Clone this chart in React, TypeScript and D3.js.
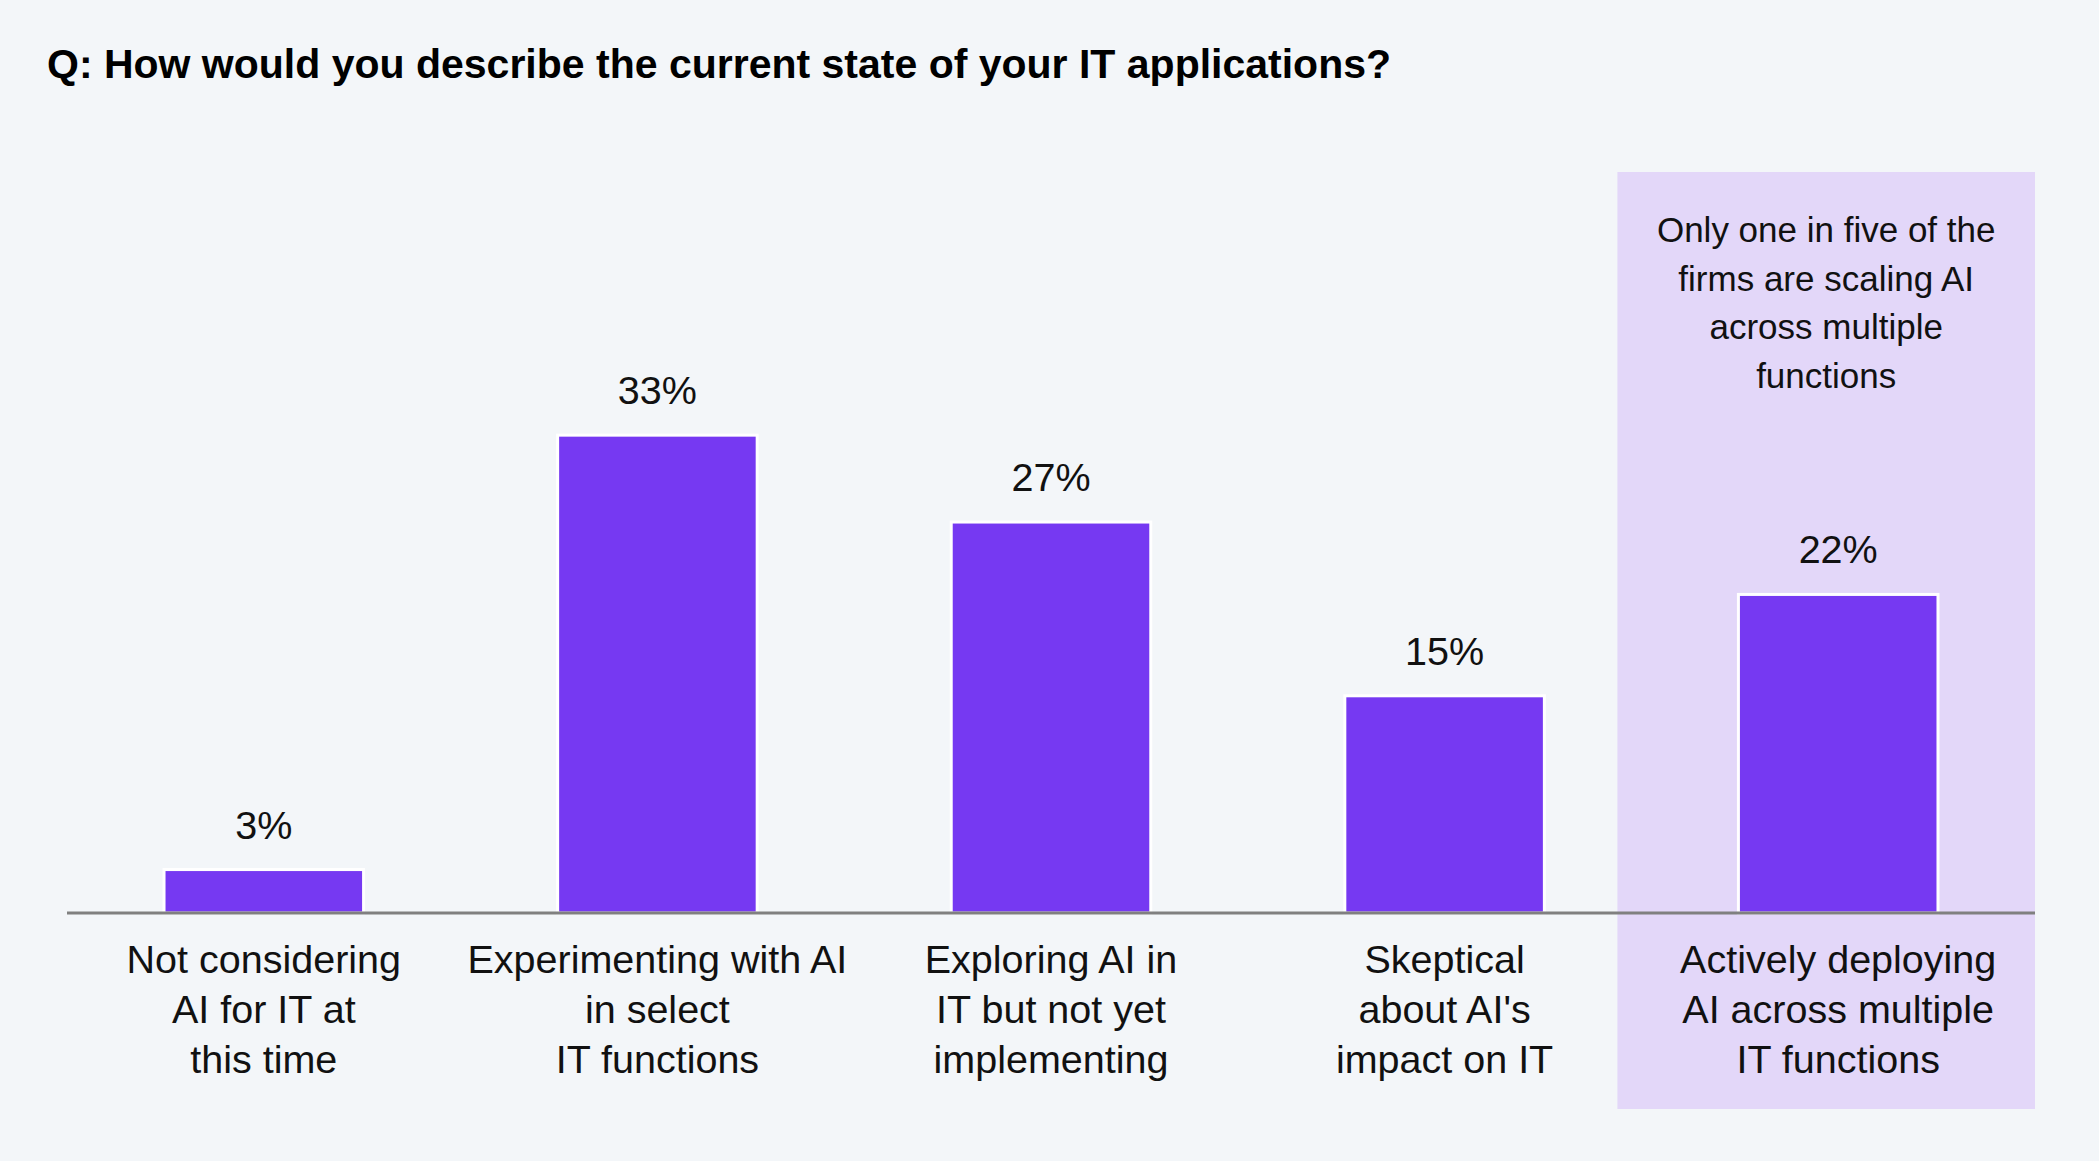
import { useEffect, useRef } from 'react';
import * as d3 from 'd3';

const categories = [
  ['Not considering', 'AI for IT at', 'this time'],
  ['Experimenting with AI', 'in select', 'IT functions'],
  ['Exploring AI in', 'IT but not yet', 'implementing'],
  ['Skeptical', "about AI's", 'impact on IT'],
  ['Actively deploying', 'AI across multiple', 'IT functions'],
];
const values = [3, 33, 27, 15, 22];
const highlightIndex = 4;
const noteLines = ['Only one in five of the', 'firms are scaling AI', 'across multiple', 'functions'];
const title = 'Q: How would you describe the current state of your IT applications?';

const W = 2099;
const H = 1161;
const FONT = '"Liberation Sans", Arial, Helvetica, sans-serif';

export default function App() {
  const svgRef = useRef<SVGSVGElement>(null);

  useEffect(() => {
    if (!svgRef.current) return;
    const svg = d3.select(svgRef.current);
    svg.selectAll('*').remove();

    const baseline = 913;
    const left = 67;
    const right = 2035;

    const keys = categories.map((_, i) => String(i));
    const x = d3.scaleBand<string>()
      .domain(keys)
      .range([left, right])
      .paddingInner(0.493)
      .paddingOuter(0.2465);
    const step = x.step();

    const y = d3.scaleLinear()
      .domain([0, 33])
      .range([baseline, baseline - 33 * 14.48]);

    // Background
    svg.append('rect')
      .attr('width', W).attr('height', H)
      .attr('fill', '#f3f6f9');

    // Title
    svg.append('text')
      .attr('x', 47).attr('y', 78)
      .attr('font-family', FONT)
      .attr('font-weight', 'bold')
      .attr('font-size', 41)
      .attr('fill', '#000')
      .text(title);

    // Highlight panel behind the last category
    const hx0 = (x(String(highlightIndex)) || 0) - (step - x.bandwidth()) / 2 - 24;
    svg.append('rect')
      .attr('x', hx0).attr('y', 172)
      .attr('width', right - hx0).attr('height', 1109 - 172)
      .attr('fill', '#e3d7f9');

    const noteX = (hx0 + right) / 2;
    svg.append('text')
      .attr('text-anchor', 'middle')
      .attr('font-family', FONT)
      .attr('font-size', 35)
      .attr('fill', '#111')
      .selectAll('tspan')
      .data(noteLines)
      .enter()
      .append('tspan')
      .attr('x', noteX)
      .attr('y', (_, i) => 242 + i * 48.5)
      .text(d => d);

    // Bars
    svg.selectAll('.bar')
      .data(values)
      .enter()
      .append('rect')
      .attr('class', 'bar')
      .attr('x', (_, i) => x(String(i)) || 0)
      .attr('y', d => y(d))
      .attr('width', x.bandwidth())
      .attr('height', d => baseline - y(d))
      .attr('fill', '#7639f2')
      .attr('stroke', '#fff')
      .attr('stroke-width', 3);

    // Value labels
    svg.selectAll('.value')
      .data(values)
      .enter()
      .append('text')
      .attr('class', 'value')
      .attr('x', (_, i) => (x(String(i)) || 0) + x.bandwidth() / 2)
      .attr('y', d => y(d) - 31)
      .attr('text-anchor', 'middle')
      .attr('font-family', FONT)
      .attr('font-size', 39.5)
      .attr('fill', '#111')
      .text(d => `${d}%`);

    // Baseline axis
    svg.append('line')
      .attr('x1', left).attr('x2', right)
      .attr('y1', baseline).attr('y2', baseline)
      .attr('stroke', '#808080')
      .attr('stroke-width', 3);

    // Category labels
    const cats = svg.selectAll('.cat')
      .data(categories)
      .enter()
      .append('text')
      .attr('class', 'cat')
      .attr('text-anchor', 'middle')
      .attr('font-family', FONT)
      .attr('font-size', 39.5)
      .attr('fill', '#111');
    cats.each(function (lines, i) {
      const cx = (x(String(i)) || 0) + x.bandwidth() / 2;
      d3.select(this)
        .selectAll('tspan')
        .data(lines)
        .enter()
        .append('tspan')
        .attr('x', cx)
        .attr('y', (_, j) => 973 + j * 50)
        .text(d => d);
    });
  }, []);

  return (
    <div style={{ position: 'absolute', left: 0, top: 0 }}>
      <svg ref={svgRef} width={W} height={H} style={{ display: 'block' }} />
    </div>
  );
}
